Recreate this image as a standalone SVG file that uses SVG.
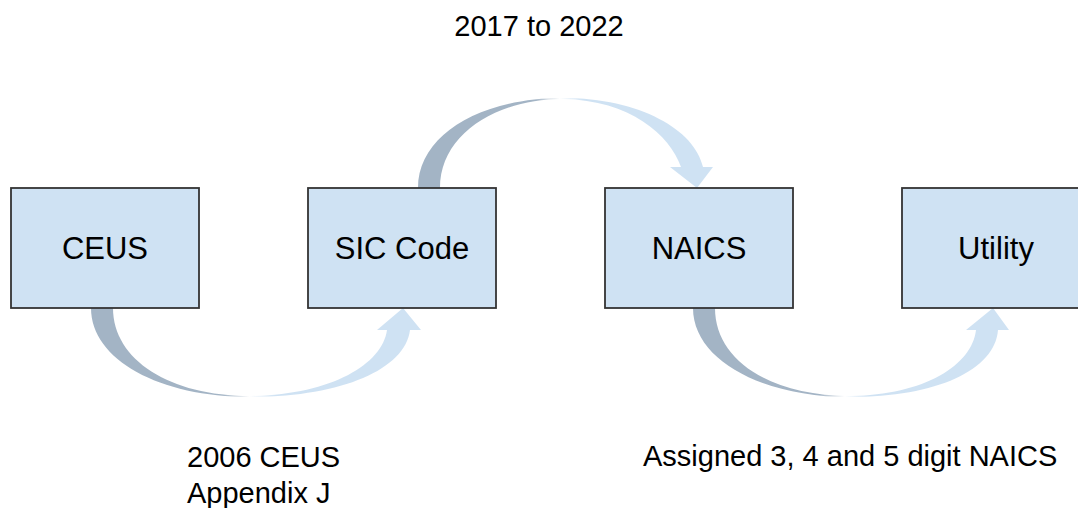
<svg xmlns="http://www.w3.org/2000/svg" width="1078" height="508" viewBox="0 0 1078 508">
<defs>
<style>
.box{fill:#cfe2f3;stroke:#333333;stroke-width:1.8}
.lbl{font-family:"Liberation Sans",Arial,sans-serif;font-size:29px;fill:#000000}
.big{font-size:31px}
.mid{text-anchor:middle}
</style>
<linearGradient id="g1" x1="0" y1="0" x2="1" y2="0">
<stop offset="0" stop-color="#a3b4c5"/>
<stop offset="0.4" stop-color="#a3b4c5"/>
<stop offset="0.48" stop-color="#ffffff"/>
<stop offset="0.56" stop-color="#cfe2f3"/>
<stop offset="1" stop-color="#cfe2f3"/>
</linearGradient>
</defs>
<g id="connectors">
<path id="arrow-ceus-sic" fill="url(#g1)" d="M91,308 C91,360 160,397 250,397 C340,397 405,370 410,330 L421,330 L403,308 L377,330 L387,330 C382,365 330,395 250,396 C170,396 113,360 113,308 Z"/>
<path id="arrow-sic-naics" fill="url(#g1)" d="M418,188 C418,135 480,98 563,98 C640,98 695,130 703,167 L713,167 L697,188 L670,167 L681,167 C670,135 630,100 563,99 C495,99 440,135 440,188 Z"/>
<path id="arrow-naics-utility" fill="url(#g1)" d="M693,308 C693,360 762,397 850,397 C937,397 995,370 998,330 L1009,330 L993,308 L966,330 L976,330 C972,365 925,395 850,396 C770,396 715,360 715,308 Z"/>
</g>
<g id="node-ceus">
<rect class="box" x="11" y="188" width="188" height="120"/>
<text class="lbl big mid" x="105" y="259">CEUS</text>
</g>
<g id="node-sic">
<rect class="box" x="308" y="188" width="188" height="120"/>
<text class="lbl big mid" x="402" y="259">SIC Code</text>
</g>
<g id="node-naics">
<rect class="box" x="605" y="188" width="188" height="120"/>
<text class="lbl big mid" x="699" y="259">NAICS</text>
</g>
<g id="node-utility">
<rect class="box" x="902" y="188" width="188" height="120"/>
<text class="lbl big mid" x="996" y="259">Utility</text>
</g>
<g id="labels">
<text class="lbl mid" x="539" y="36">2017 to 2022</text>
<text class="lbl" x="187" y="467">2006 CEUS</text>
<text class="lbl" x="187" y="503">Appendix J</text>
<text class="lbl" x="643" y="466">Assigned 3, 4 and 5 digit NAICS</text>
</g>
</svg>
